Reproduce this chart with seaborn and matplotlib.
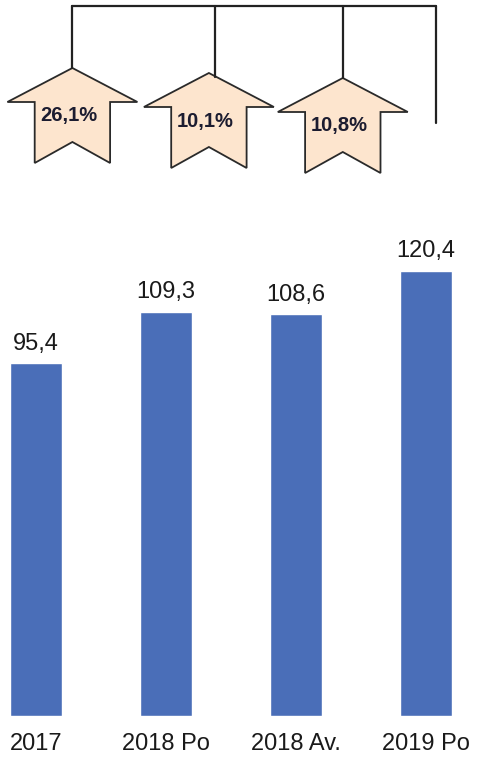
import matplotlib
matplotlib.use("Agg")
import matplotlib.pyplot as plt
import seaborn as sns
import pandas as pd
from matplotlib.patches import Polygon

# === DATA ===
categories = ["2017", "2018 Po", "2018 Av.", "2019 Po"]
values = [95.4, 109.3, 108.6, 120.4]
growth_labels = ["26,1%", "10,1%", "10,8%"]

df = pd.DataFrame({"period": categories, "value": values})

# === STYLE ===
sns.set_theme(style="white")
plt.rcParams["font.family"] = ["Liberation Sans", "DejaVu Sans"]

W, H = 480, 758
fig = plt.figure(figsize=(W / 100, H / 100), dpi=100)

# bar axes: zero line at y=716 px, 130 px between bar centres
step = 130.0
x0 = 36.0
ymax = 130
ppu = 3.70
ax_h = ymax * ppu
ax = fig.add_axes([0, (H - 716) / H, 1, ax_h / H])
sns.barplot(data=df, x="period", y="value", color="#4A6EB8", width=0.4,
            saturation=1, ax=ax)
ax.set_xlim(-x0 / step, (W - x0) / step)
ax.set_ylim(0, ymax)
ax.set_xlabel("")
ax.set_ylabel("")
ax.set_yticks([])
ax.tick_params(axis="x", length=0, pad=12, labelsize=17, labelcolor="#1a1a1a")
for s in ax.spines.values():
    s.set_visible(False)
ax.bar_label(ax.containers[0],
             labels=[f"{v:.1f}".replace(".", ",") for v in values],
             padding=6, fontsize=17, color="#1a1a1a")

# === GROWTH ARROWS (top area, y in pixel units) ===
top_h = 185
ax2 = fig.add_axes([0, 1 - top_h / H, 1, top_h / H], sharex=ax)
ax2.set_ylim(top_h, 0)
ax2.axis("off")

arrow_dx = [0.28, 1.33, 2.36]
arrow_tip = [68, 73, 78]
line_x = [0.28, 1.38, 2.36, 3.08]
line_end = [68, 77, 78, 123]
half_w, stem_w = 0.50, 0.29
line_y = 6

for i, lab in enumerate(growth_labels):
    cx, ty = arrow_dx[i], arrow_tip[i]
    pts = [(cx, ty), (cx + half_w, ty + 34), (cx + stem_w, ty + 34),
           (cx + stem_w, ty + 95), (cx, ty + 74), (cx - stem_w, ty + 95),
           (cx - stem_w, ty + 34), (cx - half_w, ty + 34)]
    ax2.add_patch(Polygon(pts, closed=True, facecolor="#FDE5CE",
                          edgecolor="#2a2a2a", linewidth=1.3))
    ax2.text(cx - 0.03, ty + 48, lab, ha="center", va="center",
             fontsize=14.5, fontweight="bold", color="#1c1c30")

for x, y_end in zip(line_x, line_end):
    ax2.plot([x, x], [line_y, y_end], color="#222222", linewidth=1.6)
ax2.plot([line_x[0], line_x[-1]], [line_y, line_y], color="#222222",
         linewidth=1.6)

fig.savefig("out.png", dpi=100)
